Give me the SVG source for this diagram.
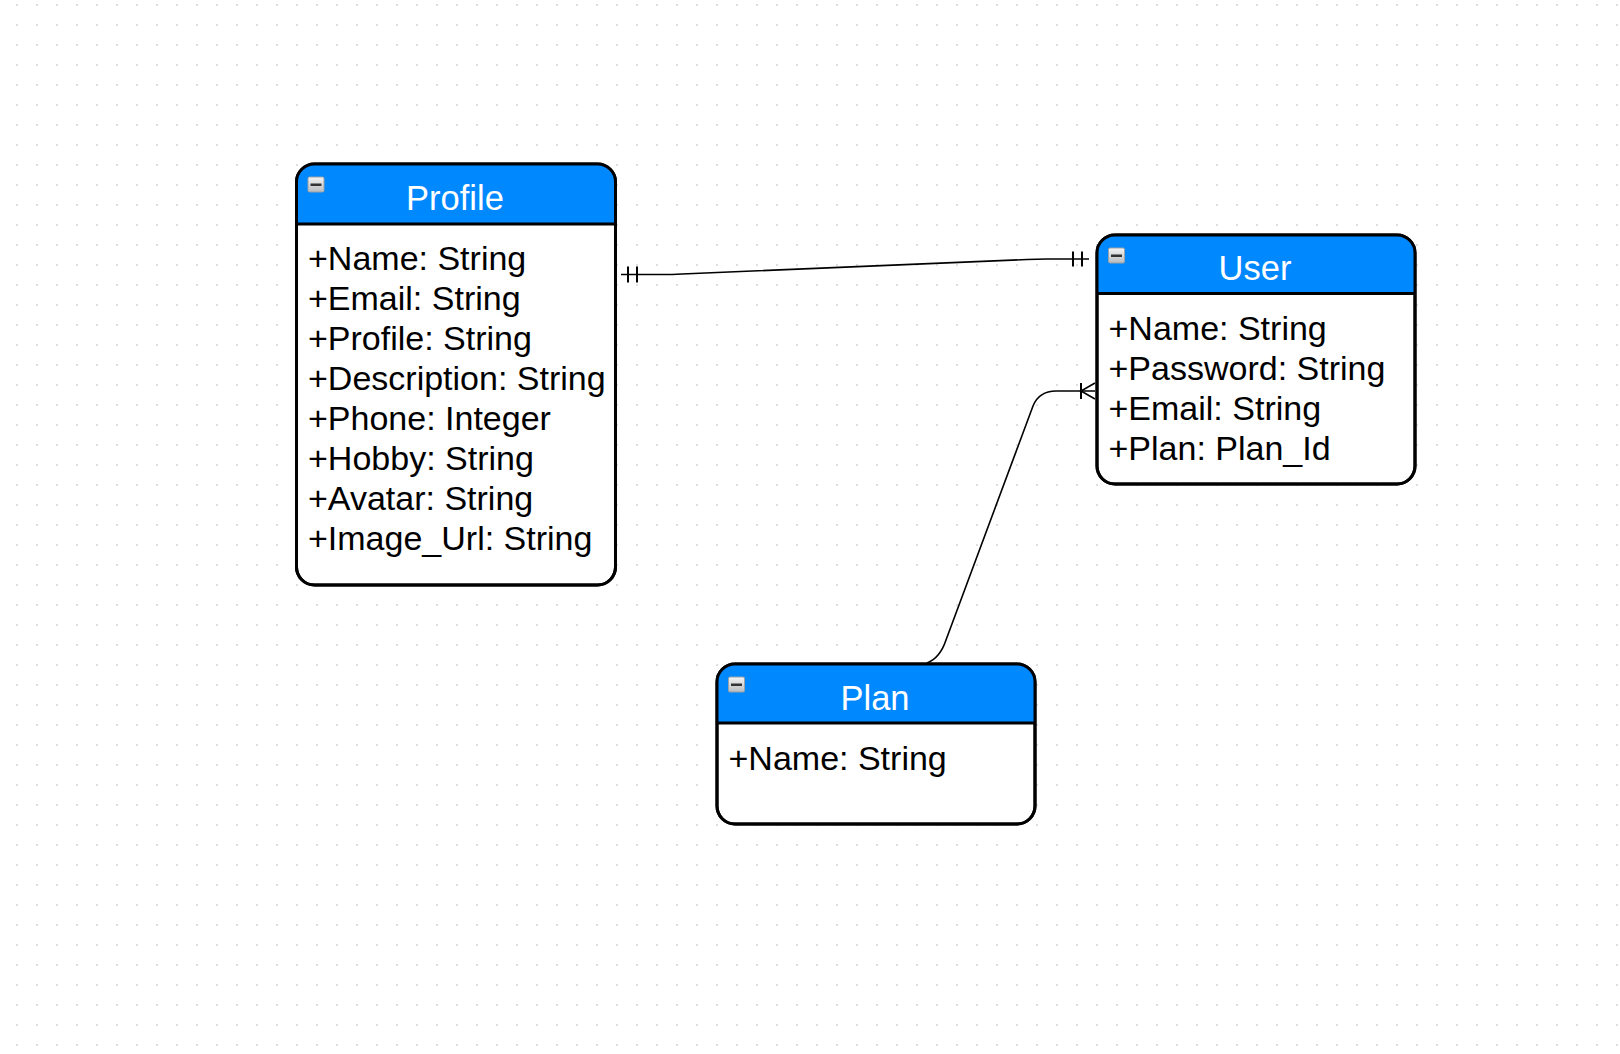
<svg xmlns="http://www.w3.org/2000/svg" width="1620" height="1054" viewBox="0 0 1620 1054">
  <defs>
    <pattern id="grid" x="16" y="4" width="20" height="20" patternUnits="userSpaceOnUse">
      <rect x="0" y="0" width="2" height="2" fill="#dedede"/>
    </pattern>
    <linearGradient id="iconGrad" x1="0" y1="0" x2="0" y2="1">
      <stop offset="0" stop-color="#f4f4f4"/>
      <stop offset="1" stop-color="#b8bcc0"/>
    </linearGradient>
    <g id="collapse">
      <rect x="0.5" y="0.5" width="16" height="15" rx="1.5" fill="url(#iconGrad)" stroke="#9aa0a6" stroke-width="1"/>
      <rect x="3" y="7" width="11" height="2.5" fill="#333"/>
    </g>
  </defs>
  <style>
    .box { fill: #ffffff; stroke: #000000; stroke-width: 3; }
    .outline { fill: none; stroke: #000000; stroke-width: 3; }
    .header { fill: #0088ff; }
    .sep { stroke: #000000; stroke-width: 3; }
    .title { font-family: "Liberation Sans", Arial, sans-serif; font-size: 34.5px; fill: #ffffff; text-anchor: middle; }
    .attr { font-family: "Liberation Sans", Arial, sans-serif; font-size: 34px; fill: #000000; }
    .conn { fill: none; stroke: #000000; stroke-width: 1.6; }
    .tick { stroke: #000000; stroke-width: 2; }
  </style>
  <rect x="0" y="0" width="1620" height="1054" fill="#ffffff"/>
  <rect x="0" y="0" width="1620" height="1054" fill="url(#grid)"/>

  <g id="connectors">
    <g id="profile-user">
      <path class="conn" d="M621,274.5 L662,274.5 Q672,274.5 682,274 L1027,259.5 Q1037,259 1047,259 L1089,259"/>
      <line class="tick" x1="628" y1="266.5" x2="628" y2="282.5"/>
      <line class="tick" x1="637" y1="266.5" x2="637" y2="282.5"/>
      <line class="tick" x1="1073" y1="251.5" x2="1073" y2="266.5"/>
      <line class="tick" x1="1082" y1="251.5" x2="1082" y2="266.5"/>
    </g>
    <g id="user-plan">
      <path class="conn" d="M1095,391 L1056,391 Q1039,391 1033,406 L946,640 Q940,658 927,663"/>
      <line class="tick" x1="1081" y1="383" x2="1081" y2="399"/>
      <path class="conn" d="M1095,383 L1081,391 L1095,399"/>
    </g>
  </g>

  <g id="node-profile">
    <rect class="box" x="296.5" y="164" width="319" height="421" rx="18" ry="18"/>
    <path class="header" d="M296.5,224 L296.5,182 A18,18 0 0 1 314.5,164 L597.5,164 A18,18 0 0 1 615.5,182 L615.5,224 Z"/>
    <rect class="outline" x="296.5" y="164" width="319" height="421" rx="18" ry="18"/>
    <line class="sep" x1="296.5" y1="224" x2="615.5" y2="224"/>
    <use href="#collapse" x="307.5" y="176.5"/>
    <text class="title" x="455" y="210">Profile</text>
    <text class="attr" x="308" y="270">+Name: String</text>
    <text class="attr" x="308" y="310">+Email: String</text>
    <text class="attr" x="308" y="350">+Profile: String</text>
    <text class="attr" x="308" y="390">+Description: String</text>
    <text class="attr" x="308" y="430">+Phone: Integer</text>
    <text class="attr" x="308" y="470">+Hobby: String</text>
    <text class="attr" x="308" y="510">+Avatar: String</text>
    <text class="attr" x="308" y="550">+Image_Url: String</text>
  </g>

  <g id="node-user">
    <rect class="box" x="1097" y="235" width="318" height="249" rx="18" ry="18"/>
    <path class="header" d="M1097,293.5 L1097,253 A18,18 0 0 1 1115,235 L1397,235 A18,18 0 0 1 1415,253 L1415,293.5 Z"/>
    <rect class="outline" x="1097" y="235" width="318" height="249" rx="18" ry="18"/>
    <line class="sep" x1="1097" y1="293.5" x2="1415" y2="293.5"/>
    <use href="#collapse" x="1108" y="247.5"/>
    <text class="title" x="1255" y="280">User</text>
    <text class="attr" x="1108.5" y="340">+Name: String</text>
    <text class="attr" x="1108.5" y="380">+Password: String</text>
    <text class="attr" x="1108.5" y="420">+Email: String</text>
    <text class="attr" x="1108.5" y="460">+Plan: Plan_Id</text>
  </g>

  <g id="node-plan">
    <rect class="box" x="717" y="664" width="318" height="160" rx="18" ry="18"/>
    <path class="header" d="M717,723 L717,682 A18,18 0 0 1 735,664 L1017,664 A18,18 0 0 1 1035,682 L1035,723 Z"/>
    <rect class="outline" x="717" y="664" width="318" height="160" rx="18" ry="18"/>
    <line class="sep" x1="717" y1="723" x2="1035" y2="723"/>
    <use href="#collapse" x="728" y="676.5"/>
    <text class="title" x="875" y="710">Plan</text>
    <text class="attr" x="728.5" y="770">+Name: String</text>
  </g>
</svg>
